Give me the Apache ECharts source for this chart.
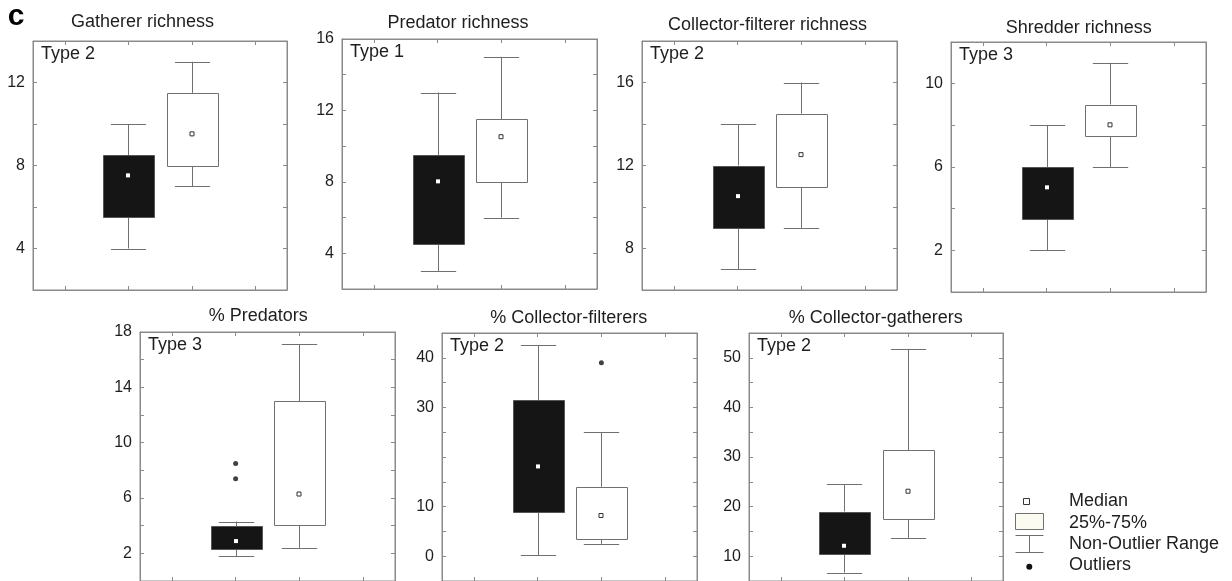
<!DOCTYPE html>
<html>
<head>
<meta charset="utf-8">
<script src="https://cdn.jsdelivr.net/npm/echarts@6/dist/echarts.min.js"></script>
<style>
html,body{margin:0;padding:0;background:#fff;}
#chart{width:1232px;height:581px;}
</style>
</head>
<body>
<div id="chart"></div>
<script>
// ---- Data ----
const panelTitles = ['Gatherer richness', 'Predator richness', 'Collector-filterer richness', 'Shredder richness',
  '% Predators', '% Collector-filterers', '% Collector-gatherers'];
const typeLabels = ['Type 2', 'Type 1', 'Type 2', 'Type 3', 'Type 3', 'Type 2', 'Type 2'];
const xCategories = ['', 'Group 1', 'Group 2', ''];

// [min, Q1, median, Q3, max]  (non-outlier range, quartiles, median)
const gathererBlack = [4, 5.5, 7.5, 8.5, 10];
const gathererWhite = [7, 8, 9.5, 11.5, 13];
const predatorBlack = [3, 4.5, 8, 9.5, 13];
const predatorWhite = [6, 8, 10.5, 11.5, 15];
const cfRichBlack = [7, 9, 10.5, 12, 14];
const cfRichWhite = [9, 11, 12.5, 14.5, 16];
const shredderBlack = [2, 3.5, 5, 6, 8];
const shredderWhite = [6, 7.5, 8, 9, 11];
const pctPredBlack = [1.8, 2.3, 2.85, 3.95, 4.3];
const pctPredWhite = [2.4, 4.05, 6.25, 13, 17.1];
const pctCfBlack = [0.2, 8.8, 18, 31.4, 42.6];
const pctCfWhite = [2.5, 3.5, 8.1, 14, 25];
const pctCgBlack = [6.7, 10.6, 12, 19, 24.5];
const pctCgWhite = [13.7, 17.4, 23, 31.4, 51.8];

// outliers
const pctPredBlackOutliers = [8.5, 7.4];
const pctCfWhiteOutliers = [39];

// y axes
const yMins = [2, 2, 6, 0, 0, -5, 5];
const yMaxs = [14, 16, 18, 12, 18, 45, 55];
const yIntervals = [2, 2, 2, 2, 2, 5, 5];
const yTickLabels = [
  [4, 8, 12],
  [4, 8, 12, 16],
  [8, 12, 16],
  [2, 6, 10],
  [2, 6, 10, 14, 18],
  [0, 10, 30, 40],
  [10, 20, 30, 40, 50]
];

const blackSets = [gathererBlack, predatorBlack, cfRichBlack, shredderBlack, pctPredBlack, pctCfBlack, pctCgBlack];
const whiteSets = [gathererWhite, predatorWhite, cfRichWhite, shredderWhite, pctPredWhite, pctCfWhite, pctCgWhite];
const outlierSets = [
  {panel: 4, cat: 1, values: pctPredBlackOutliers},
  {panel: 5, cat: 2, values: pctCfWhiteOutliers}
];

// ---- Layout (pixels) ----
const grids = [
  {left: 33, top: 41, width: 254, height: 249},
  {left: 342, top: 39, width: 255, height: 250},
  {left: 642, top: 41, width: 255, height: 249},
  {left: 951, top: 42, width: 255, height: 250},
  {left: 140, top: 332, width: 255, height: 250},
  {left: 442, top: 333, width: 255, height: 250},
  {left: 749, top: 333, width: 254, height: 250}
];
const titlePos = [[142.5, 22], [458, 23], [767.5, 25], [1078.7, 28], [258.3, 316], [568.8, 318], [875.8, 318]];

const FONT = '"Liberation Sans", Arial, Helvetica, sans-serif';
const FRAME = '#8a8a8a';
const LINE = '#707070';
const TEXT = '#1e1e1e';

const option = {
  animation: false,
  backgroundColor: '#fff',
  grid: [], xAxis: [], yAxis: [], series: [], graphic: []
};

grids.forEach((g, i) => {
  option.grid.push({left: g.left, top: g.top, width: g.width, height: g.height,
    show: true, borderColor: FRAME, borderWidth: 1, backgroundColor: 'transparent'});
  const tickStyle = {show: true, inside: true, length: 4, alignWithLabel: true, lineStyle: {color: FRAME}};
  // bottom & top x axes
  ['bottom', 'top'].forEach(pos => {
    option.xAxis.push({
      type: 'category', gridIndex: i, position: pos, data: xCategories,
      boundaryGap: true,
      axisLine: {show: true, onZero: false, lineStyle: {color: FRAME}},
      axisTick: tickStyle,
      axisLabel: {show: false}, splitLine: {show: false}
    });
  });
  const labels = yTickLabels[i];
  ['left', 'right'].forEach(pos => {
    option.yAxis.push({
      type: 'value', gridIndex: i, position: pos,
      min: yMins[i], max: yMaxs[i], interval: yIntervals[i],
      axisLine: {show: true, onZero: false, lineStyle: {color: FRAME}},
      axisTick: {show: true, inside: true, length: 4, lineStyle: {color: FRAME}},
      splitLine: {show: false},
      axisLabel: {
        show: pos === 'left', margin: 8, fontSize: 16, fontFamily: FONT, color: TEXT,
        showMinLabel: true, showMaxLabel: true,
        formatter: v => labels.indexOf(v) >= 0 ? String(v) : ''
      }
    });
  });

  const data = [
    [1].concat(blackSets[i], [0]),
    [2].concat(whiteSets[i], [1])
  ];
  option.series.push({
    type: 'custom',
    xAxisIndex: i * 2, yAxisIndex: i * 2,
    encode: {x: 0, y: [1, 2, 3, 4, 5]},
    data: data,
    z: 3,
    renderItem: function (params, api) {
      const cat = api.value(0);
      const vMin = api.value(1), q1 = api.value(2), med = api.value(3), q3 = api.value(4), vMax = api.value(5);
      const grp = api.value(6);
      const band = api.size([1, 0])[0];
      const cx = Math.round(api.coord([cat, med])[0]) + 0.5;
      const yMin = api.coord([cat, vMin])[1];
      const yQ1 = api.coord([cat, q1])[1];
      const yMed = api.coord([cat, med])[1];
      const yQ3 = api.coord([cat, q3])[1];
      const yMax = api.coord([cat, vMax])[1];
      const boxW = band * 0.8, capW = band * 0.555;
      const ls = {stroke: LINE, lineWidth: 1};
      const children = [
        {type: 'line', shape: {x1: cx, y1: yMin, x2: cx, y2: yQ1}, style: ls},
        {type: 'line', shape: {x1: cx, y1: yQ3, x2: cx, y2: yMax}, style: ls},
        {type: 'line', shape: {x1: cx - capW / 2, y1: Math.round(yMin) + 0.5, x2: cx + capW / 2, y2: Math.round(yMin) + 0.5}, style: ls},
        {type: 'line', shape: {x1: cx - capW / 2, y1: Math.round(yMax) + 0.5, x2: cx + capW / 2, y2: Math.round(yMax) + 0.5}, style: ls},
        {type: 'rect', shape: {x: Math.round(cx - boxW / 2) + 0.5, y: Math.round(yQ3) + 0.5, width: Math.round(boxW), height: Math.round(yQ1 - yQ3)},
          style: grp === 0 ? {fill: '#151515', stroke: '#555', lineWidth: 1} : {fill: '#fff', stroke: LINE, lineWidth: 1}},
        {type: 'rect', shape: {x: cx - 2.5, y: yMed - 2.5, width: 4, height: 4},
          style: grp === 0 ? {fill: '#fff', stroke: null} : {fill: '#fff', stroke: '#333', lineWidth: 1}}
      ];
      return {type: 'group', children: children};
    }
  });

  option.graphic.push({
    type: 'text', x: titlePos[i][0], y: titlePos[i][1],
    style: {text: panelTitles[i], font: '18px ' + FONT, fill: TEXT, align: 'center', verticalAlign: 'middle'}
  });
  option.graphic.push({
    type: 'text', x: g.left + 8, y: g.top + 13,
    style: {text: typeLabels[i], font: '18px ' + FONT, fill: TEXT, align: 'left', verticalAlign: 'middle'}
  });
});

outlierSets.forEach(o => {
  option.series.push({
    type: 'scatter', xAxisIndex: o.panel * 2, yAxisIndex: o.panel * 2,
    symbol: 'circle', symbolSize: 5, itemStyle: {color: '#111'}, z: 4,
    data: o.values.map(v => [o.cat, v])
  });
});

// panel letter
option.graphic.push({type: 'text', x: 16, y: 17,
  style: {text: 'c', font: '900 30px ' + FONT, fill: '#000', align: 'center', verticalAlign: 'middle'}});

// legend (drawn key)
const lg = [
  {type: 'rect', shape: {x: 1023.5, y: 498.5, width: 6, height: 6}, style: {fill: '#fff', stroke: '#333', lineWidth: 1}},
  {type: 'rect', shape: {x: 1015.5, y: 513.5, width: 28, height: 16}, style: {fill: '#fcfbf2', stroke: LINE, lineWidth: 1}},
  {type: 'line', shape: {x1: 1015.5, y1: 535.5, x2: 1043.5, y2: 535.5}, style: {stroke: LINE, lineWidth: 1}},
  {type: 'line', shape: {x1: 1015.5, y1: 552.5, x2: 1043.5, y2: 552.5}, style: {stroke: LINE, lineWidth: 1}},
  {type: 'line', shape: {x1: 1029.5, y1: 535.5, x2: 1029.5, y2: 552.5}, style: {stroke: LINE, lineWidth: 1}},
  {type: 'circle', shape: {cx: 1029.3, cy: 566.7, r: 3}, style: {fill: '#111'}}
];
const legendTexts = [['Median', 501], ['25%-75%', 523], ['Non-Outlier Range', 544.5], ['Outliers', 565.5]];
legendTexts.forEach(t => lg.push({type: 'text', x: 1069, y: t[1],
  style: {text: t[0], font: '18px ' + FONT, fill: TEXT, align: 'left', verticalAlign: 'middle'}}));
option.graphic = option.graphic.concat(lg);

const chart = echarts.init(document.getElementById('chart'), null, {renderer: 'canvas'});
chart.setOption(option);
</script>
</body>
</html>
